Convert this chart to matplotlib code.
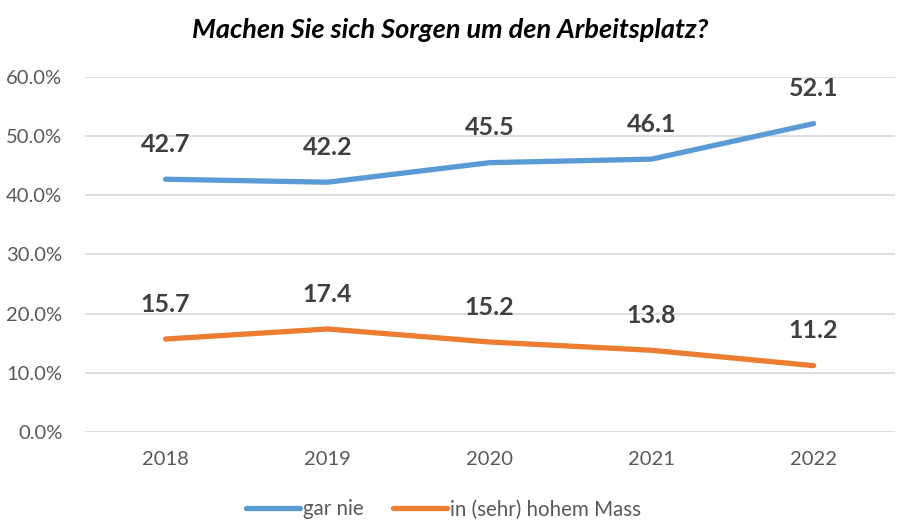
import numpy as np
import matplotlib
matplotlib.use('Agg')
import matplotlib.pyplot as plt
from matplotlib.ticker import FuncFormatter

plt.rcParams['font.family'] = ['Lato', 'DejaVu Sans']

# data
years = ['2018', '2019', '2020', '2021', '2022']
gar_nie = [42.7, 42.2, 45.5, 46.1, 52.1]
hohem_mass = [15.7, 17.4, 15.2, 13.8, 11.2]
series_names = ['gar nie', 'in (sehr) hohem Mass']

blue = '#5B9BD5'
orange = '#ED7D31'

fig = plt.figure(figsize=(9, 5.3), dpi=100)
ax = fig.add_axes([0.094, 0.185, 0.9, 0.67])

x = np.arange(len(years))
ax.plot(x, gar_nie, color=blue, lw=3.8, solid_capstyle='round', label=series_names[0])
ax.plot(x, hohem_mass, color=orange, lw=3.8, solid_capstyle='round', label=series_names[1])

# data labels above points
for series in (gar_nie, hohem_mass):
    for xi, v in zip(x, series):
        ax.annotate(f'{v:.1f}', (xi, v), xytext=(0, 25), textcoords='offset points',
                    ha='center', va='center', fontsize=18, fontweight='bold', color='#404040')

ax.set_xlim(-0.5, len(years) - 0.5)
ax.set_ylim(0, 60)
ax.set_yticks(np.arange(0, 61, 10))
ax.yaxis.set_major_formatter(FuncFormatter(lambda v, p: f'{v:.1f}%'))
ax.set_xticks(x)
ax.set_xticklabels(years)
ax.tick_params(axis='both', length=0, labelsize=14.5, labelcolor='#595959')
ax.tick_params(axis='x', pad=14)
ax.tick_params(axis='y', pad=16)
ax.grid(axis='y', color='#D9D9D9', lw=1.2)
ax.set_axisbelow(True)
for s in ax.spines.values():
    s.set_visible(False)

fig.text(0.5, 0.943, 'Machen Sie sich Sorgen um den Arbeitsplatz?', ha='center', va='center',
         fontsize=19.5, fontweight='bold', fontstyle='italic', color='black')

fig.legend(loc='lower center', bbox_to_anchor=(0.493, -0.015), ncol=2, frameon=False,
           fontsize=14.8, labelcolor='#595959', handlelength=2.6, handletextpad=0.15,
           columnspacing=1.45)

fig.savefig('out.png', dpi=100)
